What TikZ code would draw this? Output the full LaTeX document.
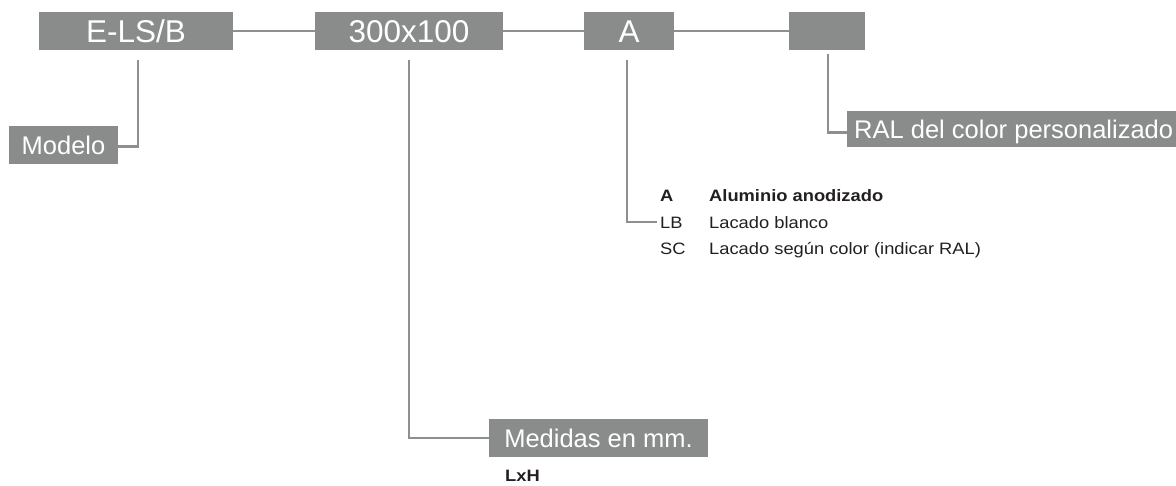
\documentclass[tikz,border=0pt]{standalone}
\usepackage{fontspec}
\setmainfont{Liberation Sans}
\newfontfamily\boxfont{Liberation Sans}
\newfontfamily\listfont[FakeStretch=1.11]{Liberation Sans}
\usetikzlibrary{calc}
\definecolor{boxgray}{HTML}{8A8C8C}
\definecolor{linegray}{HTML}{8E9090}
\definecolor{txtdark}{HTML}{231F20}
\tikzset{
  codebox/.style={fill=boxgray, text=white, inner sep=0pt, minimum height=38pt,
    font=\boxfont\fontsize{31.5}{31.5}\selectfont, text height=22.5pt, text depth=0pt},
  labelbox/.style={fill=boxgray, text=white, inner sep=0pt, minimum height=38pt,
    font=\boxfont\fontsize{25.5}{25.5}\selectfont, text height=18.3pt, text depth=0pt},
  listtext/.style={anchor=base west, inner sep=0pt, text=txtdark,
    font=\listfont\fontsize{16.5}{16.5}\selectfont},
  listbold/.style={listtext, font=\listfont\bfseries\fontsize{16.5}{16.5}\selectfont},
  conn/.style={draw=linegray, line width=2.2pt}
}
\begin{document}
\begin{tikzpicture}[x=1pt, y=-1pt]
\useasboundingbox (0,0) rectangle (1176,485);
% top code boxes
\node[codebox, minimum width=194pt] (els) at (136,31) {E-LS/B};
\node[codebox, minimum width=188pt] (dim) at (409,31) {300x100};
\node[codebox, minimum width=90pt] (mat) at (629,31) {A};
\node[codebox, minimum width=76pt] (ral0) at (827,31) {};
% label boxes
\node[labelbox, minimum width=109pt] (modelo) at (63.5,145) {Modelo};
\node[labelbox, minimum width=219pt] (medidas) at (598.5,438) {Medidas en mm.};
\node[labelbox, minimum height=36pt, anchor=west, inner xsep=7pt] (ral) at (847,129)
  {\makebox[315pt][l]{RAL del color personalizado}};
% list
\node[listbold] (ka) at (660,201) {A};
\node[listbold] (ta) at (709,201) {Aluminio anodizado};
\node[listtext] (klb) at (660,228) {LB};
\node[listtext] (tlb) at (709,228) {Lacado blanco};
\node[listtext] (ksc) at (660,254) {SC};
\node[listtext] (tsc) at (709,254) {Lacado según color (indicar RAL)};
\node[listbold] (lxh) at (505,481.5) {LxH};
% connectors
\draw[conn] (els.east) -- (dim.west);
\draw[conn] (dim.east) -- (mat.west);
\draw[conn] (mat.east) -- (ral0.west);
\draw[conn] ($(els.south)+(2,10)$) |- ($(modelo.east)+(0,1.5)$);
\draw[conn] ($(dim.south)+(0,10)$) |- (medidas.west);
\draw[conn] ($(mat.south)+(-2,10)$) |- ($(klb.base west)+(-3,-6)$);
\draw[conn] ($(ral0.south)+(1,4)$) |- ($(ral.west)+(0,3.5)$);
\end{tikzpicture}
\end{document}
